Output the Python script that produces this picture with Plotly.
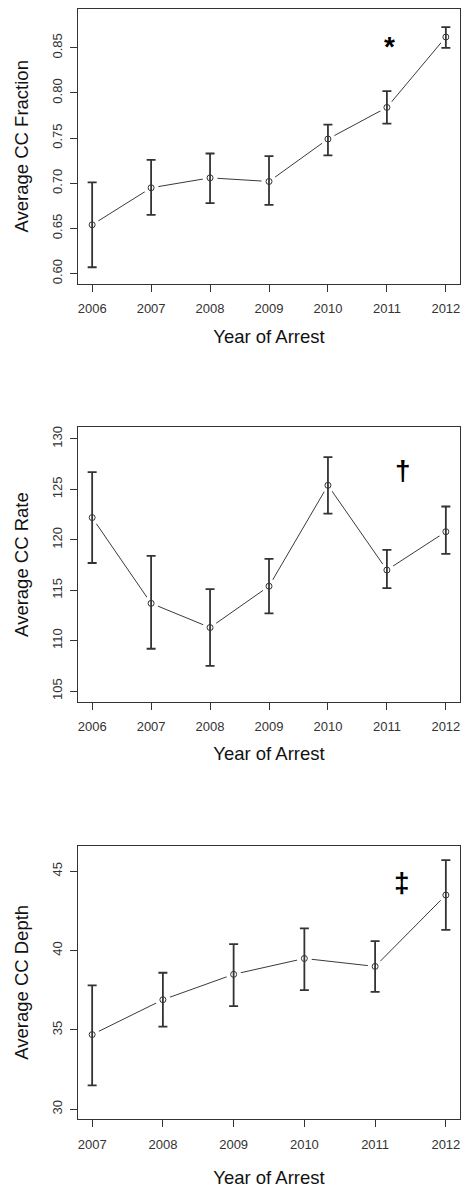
import plotly.graph_objects as go

# ---- data ----
years_a = [2006, 2007, 2008, 2009, 2010, 2011, 2012]
frac_mean = [0.654, 0.695, 0.706, 0.702, 0.749, 0.784, 0.862]
frac_hi = [0.701, 0.726, 0.733, 0.730, 0.765, 0.802, 0.873]
frac_lo = [0.607, 0.665, 0.678, 0.676, 0.731, 0.766, 0.850]

years_b = [2006, 2007, 2008, 2009, 2010, 2011, 2012]
rate_mean = [122.2, 113.7, 111.3, 115.4, 125.4, 117.0, 120.8]
rate_hi = [126.7, 118.4, 115.1, 118.1, 128.2, 119.0, 123.3]
rate_lo = [117.7, 109.2, 107.5, 112.7, 122.6, 115.2, 118.6]

years_c = [2007, 2008, 2009, 2010, 2011, 2012]
depth_mean = [34.7, 36.9, 38.5, 39.5, 39.0, 43.5]
depth_hi = [37.8, 38.6, 40.4, 41.4, 40.6, 45.7]
depth_lo = [31.5, 35.2, 36.5, 37.5, 37.4, 41.3]

panels = [
    dict(x=years_a, m=frac_mean, hi=frac_hi, lo=frac_lo, title="Average CC Fraction",
         yr=[0.589, 0.893], ytv=[0.60, 0.65, 0.70, 0.75, 0.80, 0.85], fmt=".2f",
         xr=[2005.76, 2012.24], sym="*", sx=2011.05, sy=0.851, px=(8, 283), xs=14),
    dict(x=years_b, m=rate_mean, hi=rate_hi, lo=rate_lo, title="Average CC Rate",
         yr=[103.94, 131.15], ytv=[105, 110, 115, 120, 125, 130], fmt="d",
         xr=[2005.76, 2012.24], sym="†", sx=2011.27, sy=126.9, px=(427, 702), xs=13),
    dict(x=years_c, m=depth_mean, hi=depth_hi, lo=depth_lo, title="Average CC Depth",
         yr=[29.37, 46.62], ytv=[30, 35, 40, 45], fmt="d",
         xr=[2006.8, 2012.2], sym="‡", sx=2011.38, sy=44.3, px=(846, 1120), xs=20),
]

W, H = 462, 1190
fig = go.Figure()
layout = {}
FONT = "Liberation Sans, Arial, sans-serif"
annotations = []
for i, p in enumerate(panels):
    n = "" if i == 0 else str(i + 1)
    xa, ya = "x" + n, "y" + n
    ep = [h - m for h, m in zip(p["hi"], p["m"])]
    em = [m - l for m, l in zip(p["m"], p["lo"])]
    fig.add_trace(go.Scatter(x=p["x"], y=p["m"], mode="lines", xaxis=xa, yaxis=ya,
                             line=dict(color="#3a3a3a", width=1), showlegend=False, hoverinfo="skip"))
    fig.add_trace(go.Scatter(x=p["x"], y=p["m"], mode="markers", xaxis=xa, yaxis=ya,
                             marker=dict(color="white", size=15, line=dict(width=0), opacity=1),
                             showlegend=False, hoverinfo="skip"))
    fig.add_trace(go.Scatter(x=p["x"], y=p["m"], mode="markers", xaxis=xa, yaxis=ya,
                             marker=dict(symbol="circle-open", color="#333", size=6, line=dict(width=1)),
                             error_y=dict(type="data", array=ep, arrayminus=em, color="#333",
                                          thickness=1.8, width=4.5),
                             showlegend=False))
    top, bot = p["px"]
    dom_y = [1 - bot / H, 1 - top / H]
    layout["xaxis" + n] = dict(domain=[78 / W, 460 / W], range=p["xr"], anchor=ya,
                               tickvals=p["x"], ticks="outside", ticklen=7, tickcolor="#333",
                               ticklabelstandoff=6,
                               showline=True, linecolor="#333", linewidth=1, mirror=True,
                               showgrid=False, zeroline=False,
                               tickfont=dict(size=13, color="#333", family=FONT),
                               title=dict(text="Year of Arrest", standoff=p["xs"],
                                          font=dict(size=18.5, color="#111", family=FONT)))
    layout["yaxis" + n] = dict(domain=dom_y, range=p["yr"], anchor=xa,
                               tickvals=p["ytv"], tickformat=p["fmt"], tickangle=-90,
                               ticks="outside", ticklen=7, tickcolor="#333",
                               ticklabelstandoff=3,
                               showline=True, linecolor="#333", linewidth=1, mirror=True,
                               showgrid=False, zeroline=False,
                               tickfont=dict(size=13, color="#333", family=FONT),
                               title=dict(text=p["title"], standoff=16,
                                          font=dict(size=18.5, color="#111", family=FONT)))
    annotations.append(dict(x=p["sx"], y=p["sy"], xref=xa, yref=ya, text="<b>%s</b>" % p["sym"],
                            showarrow=False, font=dict(size=28, color="black", family=FONT)))

fig.update_layout(width=W, height=H, margin=dict(l=0, r=0, t=0, b=0),
                  plot_bgcolor="white", paper_bgcolor="white",
                  annotations=annotations, **layout)
fig.write_html("out.html", config={"displayModeBar": False},
               post_script="document.body.style.margin='0';document.body.style.overflow='hidden';")
